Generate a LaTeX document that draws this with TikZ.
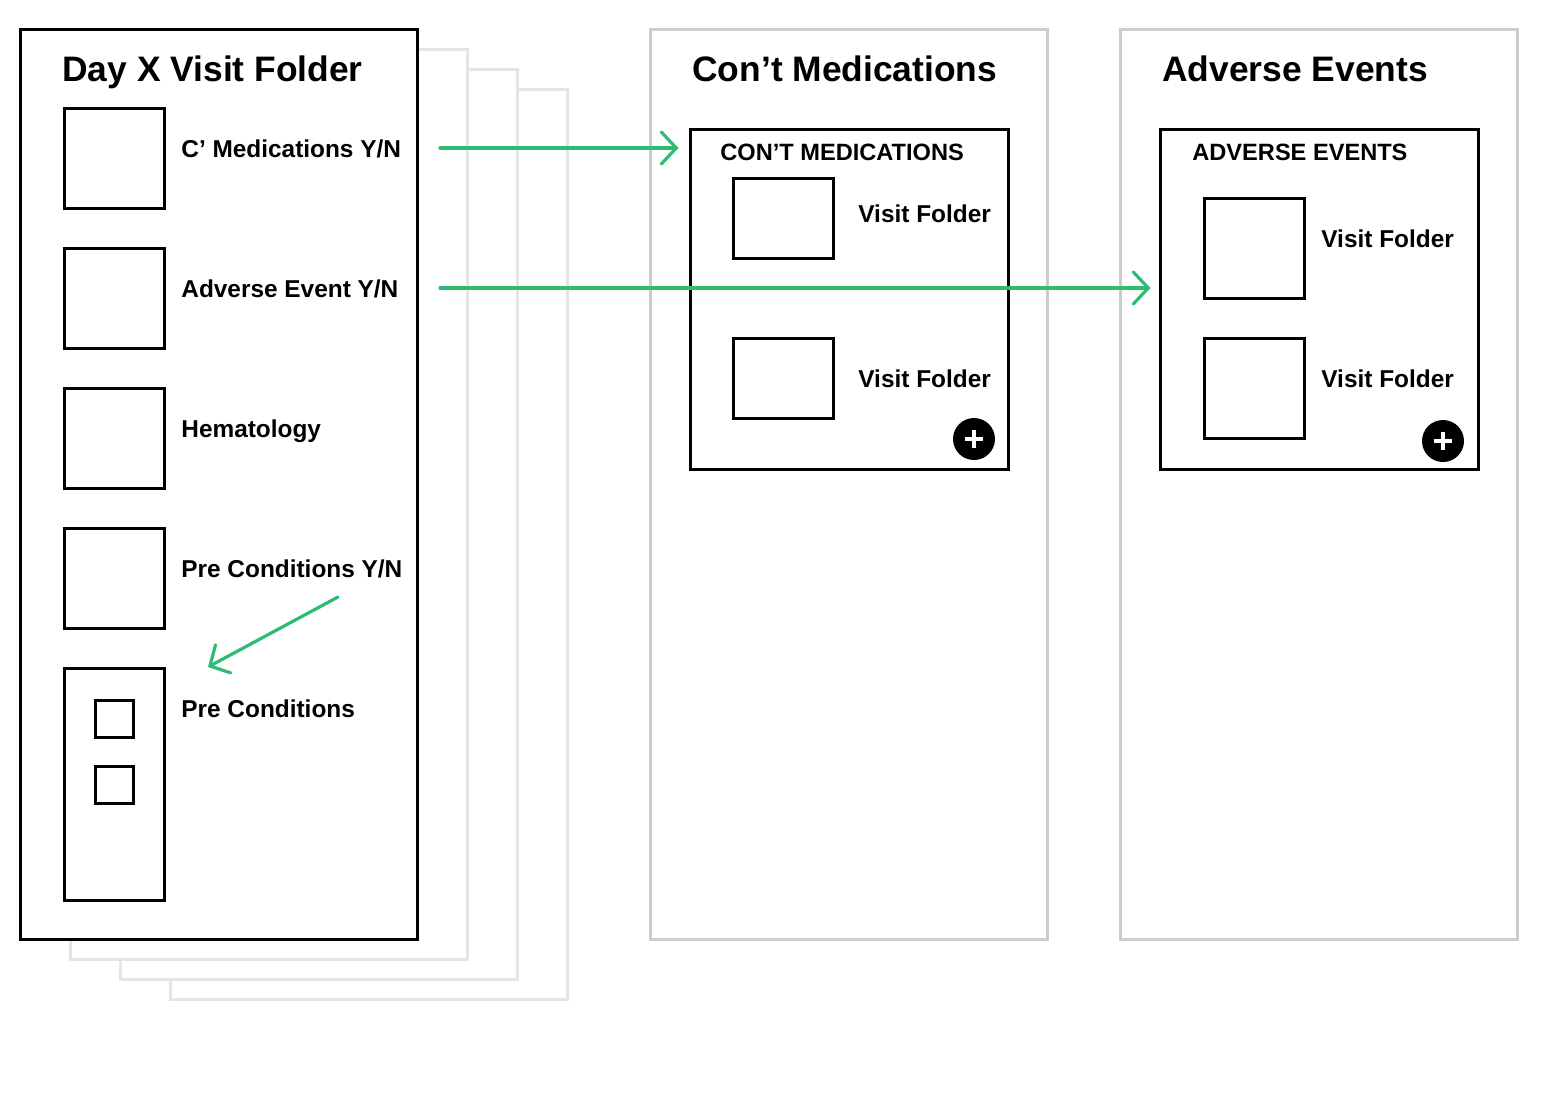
\documentclass[tikz,border=0pt]{standalone}
\usepackage{fontspec}
\setmainfont{Liberation Sans}
\usetikzlibrary{arrows.meta,positioning}
\definecolor{flowgreen}{RGB}{46,187,116}
\definecolor{pagegray}{RGB}{229,229,229}
\definecolor{panelgray}{RGB}{204,204,204}
\tikzset{
  page/.style={draw=pagegray,line width=1.5pt,fill=white,minimum width=198.5pt,minimum height=455pt},
  panel/.style={draw=panelgray,line width=1.5pt,fill=white,minimum width=198.5pt,minimum height=455pt},
  frame/.style={draw=black,line width=1.5pt,fill=white,minimum width=198.5pt,minimum height=455pt},
  box/.style={draw=black,line width=1.5pt,fill=white,inner sep=0pt},
  ttl/.style={anchor=base west,inner sep=0pt,font=\fontsize{17.7}{20}\selectfont\bfseries},
  lbl/.style={anchor=base west,inner sep=0pt,font=\fontsize{12.2}{14}\selectfont\bfseries},
  hdr/.style={anchor=base west,inner sep=0pt,font=\fontsize{11.8}{14}\selectfont\bfseries},
  flow/.style={draw=flowgreen,line width=1.6pt,line cap=round,-{Straight Barb[length=7.5pt,width=16pt,line cap=round]}},
  addbtn/.style={circle,fill=black,minimum size=21pt,inner sep=0pt},
  plusbar/.style={draw=white,line width=1.8pt}
}
\begin{document}
\begin{tikzpicture}[x=0.5pt,y=-0.5pt]
\useasboundingbox (0,0) rectangle (1560,1094);
% stack of visit folders
\node[page] (page3) at (368.5,544) {};
\node[page] (page2) at (318.5,524) {};
\node[page] (page1) at (268.5,504) {};
\node[frame] (visit) at (218.5,484) {};
\node[ttl] (visittitle) at (62,81) {Day X Visit Folder};
\node[box,minimum width=50pt,minimum height=50pt] (medbox) at (114,158) {};
\node[box,minimum width=50pt,minimum height=50pt] (aebox) at (114,298) {};
\node[box,minimum width=50pt,minimum height=50pt] (hembox) at (114,438) {};
\node[box,minimum width=50pt,minimum height=50pt] (precynbox) at (114,578) {};
\node[box,minimum width=50pt,minimum height=116pt] (precbox) at (114,784) {};
\node[box,minimum width=19pt,minimum height=18.5pt] (preccheck1) at (114,718.5) {};
\node[box,minimum width=19pt,minimum height=18.5pt] (preccheck2) at (114,784.5) {};
\node[lbl] (medyn) at (181,157) {C’ Medications Y/N};
\node[lbl] (aeyn) at (181,297) {Adverse Event Y/N};
\node[lbl] (hem) at (181,437) {Hematology};
\node[lbl] (precyn) at (181,577) {Pre Conditions Y/N};
\node[lbl] (prec) at (181,717) {Pre Conditions};

% con't medications
\node[panel] (medpanel) at (848.5,484) {};
\node[ttl] (medtitle) at (692,81) {Con’t Medications};
\node[box,minimum width=159pt,minimum height=170pt] (cbox) at (849,299) {};
\node[hdr] (medhdr) at (720,160) {CON’T MEDICATIONS};
\node[box,minimum width=50pt,minimum height=40pt] (medvf1) at (783,218) {};
\node[box,minimum width=50pt,minimum height=40pt] (medvf2) at (783,378) {};
\node[lbl] (medvflbl1) at (858,222) {Visit Folder};
\node[lbl] (medvflbl2) at (858,387) {Visit Folder};
\node[addbtn] (medadd) at (974,439) {};
\draw[plusbar] ([xshift=-4.5pt]medadd.center) -- ([xshift=4.5pt]medadd.center);
\draw[plusbar] ([yshift=-4.5pt]medadd.center) -- ([yshift=4.5pt]medadd.center);

% adverse events
\node[panel] (aepanel) at (1318.5,484) {};
\node[ttl] (aetitle) at (1162,81) {Adverse Events};
\node[box,minimum width=159pt,minimum height=170pt] (abox) at (1319,299) {};
\node[hdr] (aehdr) at (1192,160) {ADVERSE EVENTS};
\node[box,minimum width=50pt,minimum height=50pt] (aevf1) at (1254,248) {};
\node[box,minimum width=50pt,minimum height=50pt] (aevf2) at (1254,388) {};
\node[lbl] (aevflbl1) at (1321,247) {Visit Folder};
\node[lbl] (aevflbl2) at (1321,387) {Visit Folder};
\node[addbtn] (aeadd) at (1443,441) {};
\draw[plusbar] ([xshift=-4.5pt]aeadd.center) -- ([xshift=4.5pt]aeadd.center);
\draw[plusbar] ([yshift=-4.5pt]aeadd.center) -- ([yshift=4.5pt]aeadd.center);

% links
\coordinate (medout) at (440,148);
\coordinate (aeout) at (440,288);
\coordinate (precout) at (338,597);
\coordinate (precin) at (208,667);
\draw[flow,shorten >=5pt] (medout) -- (medout -| cbox.west);
\draw[flow,shorten >=4pt] (aeout) -- (aeout -| abox.west);
\draw[flow] (precout) -- (precin);
\end{tikzpicture}
\end{document}
